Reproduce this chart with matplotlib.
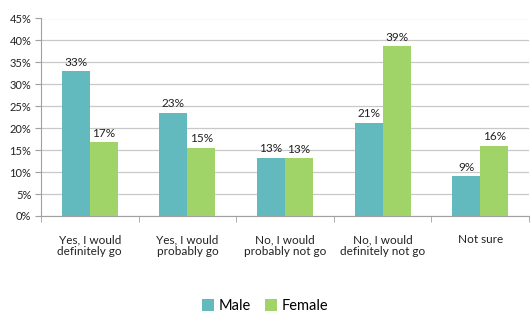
import matplotlib
matplotlib.use("Agg")
import matplotlib.pyplot as plt
import numpy as np
from matplotlib.ticker import MultipleLocator, FuncFormatter, FixedLocator

categories = ["Yes, I would\ndefinitely go", "Yes, I would\nprobably go", "No, I would\nprobably not go",
              "No, I would\ndefinitely not go", "Not sure"]
male = [33.0, 23.5, 13.3, 21.3, 9.1]
female = [16.8, 15.5, 13.2, 38.7, 16.0]
male_labels = ["33%", "23%", "13%", "21%", "9%"]
female_labels = ["17%", "15%", "13%", "39%", "16%"]

plt.rcParams['font.family'] = ['Lato', 'DejaVu Sans']
male_c = "#62B9BE"
female_c = "#A0D468"

fig = plt.figure(figsize=(5.3, 3.24), dpi=100)
ax = fig.add_axes([41/530, 1-216/324, 488/530, (216-18.5)/324])
x = np.arange(len(categories))
w = 0.287
b1 = ax.bar(x - w/2, male, w, color=male_c, label="Male", zorder=3)
b2 = ax.bar(x + w/2, female, w, color=female_c, label="Female", zorder=3)
for rect, lab in zip(b1, male_labels):
    ax.text(rect.get_x() + rect.get_width()/2, rect.get_height() + 0.8, lab,
            ha="center", va="bottom", fontsize=8.5, color="#222222")
for rect, lab in zip(b2, female_labels):
    ax.text(rect.get_x() + rect.get_width()/2, rect.get_height() + 0.8, lab,
            ha="center", va="bottom", fontsize=8.5, color="#222222")

ax.set_xlim(-0.5, len(categories) - 0.5)
ax.set_ylim(0, 45)
ax.yaxis.set_major_locator(MultipleLocator(5))
ax.yaxis.set_major_formatter(FuncFormatter(lambda v, p: f"{int(v)}%"))
ax.grid(axis="y", color="#C8C8C8", linewidth=0.9, zorder=0)
ax.set_xticks(x)
ax.set_xticklabels(categories, fontsize=8.5, color="#222222", linespacing=1.15)
ax.tick_params(axis="x", length=0, pad=13)
ax.xaxis.set_minor_locator(FixedLocator(np.arange(-0.5, len(categories), 1.0)))
ax.tick_params(axis="x", which="minor", length=4, color="#A0A0A0")
ax.tick_params(axis="y", labelsize=8, length=4, color="#A0A0A0", labelcolor="#222222", pad=3)
for s in ["top", "right"]:
    ax.spines[s].set_visible(False)
for s in ["left", "bottom"]:
    ax.spines[s].set_color("#A0A0A0")
ax.set_axisbelow(True)

fig.legend(handles=[b1, b2], labels=["Male", "Female"], loc="center", bbox_to_anchor=(0.5, 1-306/324),
           ncol=2, frameon=False, fontsize=10.5, handlelength=0.8, handleheight=0.8,
           handletextpad=0.3, columnspacing=1.0)
fig.savefig("out.png", dpi=100)
